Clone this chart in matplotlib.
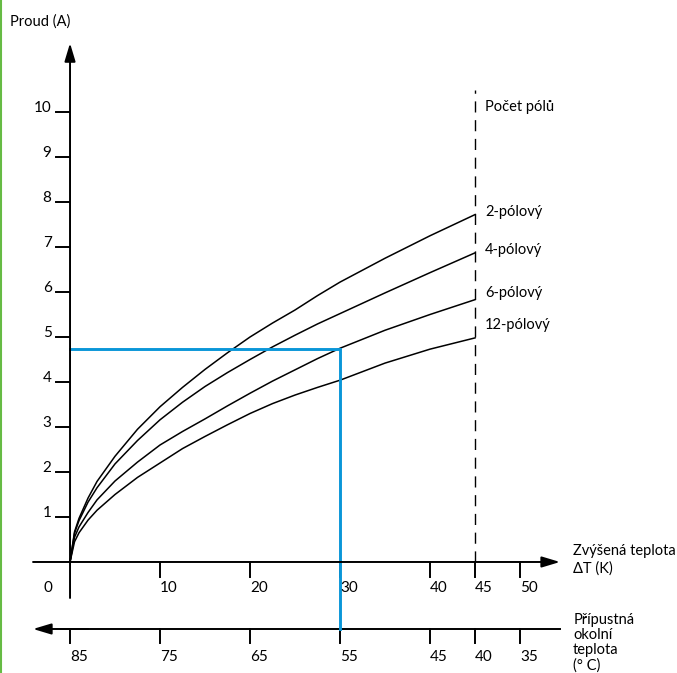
import matplotlib.pyplot as plt
from matplotlib.lines import Line2D

plt.rcParams['font.family'] = ['Lato', 'DejaVu Sans']

# temperature rise (K) and current (A) per pole number
dT = [0, 0.5, 1, 2, 3, 5, 7.5, 10, 12.5, 15, 17.5, 20, 22.5, 25, 27.5, 30, 35, 40, 45]
i_2p = [0, 0.67, 0.97, 1.42, 1.79, 2.35, 2.95, 3.45, 3.88, 4.28, 4.65, 5.0, 5.31, 5.6, 5.92, 6.22, 6.75, 7.25, 7.72]
i_4p = [0, 0.64, 0.92, 1.33, 1.65, 2.18, 2.7, 3.16, 3.55, 3.9, 4.21, 4.5, 4.78, 5.04, 5.29, 5.52, 5.98, 6.43, 6.87]
i_6p = [0, 0.55, 0.78, 1.1, 1.38, 1.8, 2.22, 2.6, 2.9, 3.18, 3.47, 3.75, 4.02, 4.27, 4.52, 4.75, 5.15, 5.5, 5.83]
i_12p = [0, 0.45, 0.65, 0.93, 1.15, 1.5, 1.88, 2.2, 2.52, 2.79, 3.05, 3.3, 3.52, 3.71, 3.88, 4.04, 4.42, 4.73, 4.98]
curve_names = ["2-pólový", "4-pólový", "6-pólový", "12-pólový"]
curve_label_y = [7.78, 6.93, 5.98, 5.27]

y_ticks = [1, 2, 3, 4, 5, 6, 7, 8, 9, 10]
x_ticks = [10, 20, 30, 40, 45, 50]
t_ticks = [85, 75, 65, 55, 45, 40, 35]   # ambient temperature, 85 - dT
t_max = 85

# example reading (blue lines)
ex_dT = 30
ex_I = 4.73

fig = plt.figure(figsize=(6.77, 6.73), dpi=100)
ax = fig.add_axes([0, 0, 1, 1])
ax.set_xlim(-7.78, 67.44)
ax.set_ylim(-2.467, 12.489)
ax.axis('off')

fs = 10.5
lw_ax = 1.4
y_low = -1.489   # level of the second (ambient) axis

def arrow(x0, y0, x1, y1):
    ax.annotate('', xy=(x1, y1), xytext=(x0, y0),
                arrowprops=dict(arrowstyle='-|>,head_length=1.1,head_width=0.33',
                                mutation_scale=10, lw=lw_ax, color='black',
                                shrinkA=0, shrinkB=0))

# axes
arrow(0, -0.8, 0, 11.53)
arrow(-4.11, 0, 54.44, 0)
ax.plot([-1.0, 54.44], [y_low, y_low], color='black', lw=lw_ax)
arrow(2, y_low, -4.11, y_low)

for v in y_ticks:
    ax.plot([-1.556, 0], [v, v], color='black', lw=lw_ax)
    ax.text(-2.05, v + 0.09, str(v), ha='right', va='center', fontsize=fs + 0.5)

for v in x_ticks:
    ax.plot([v, v], [0, -0.333], color='black', lw=lw_ax)
    ax.text(v, -0.578, str(v), ha='left', va='center', fontsize=fs + 0.5)
ax.text(-2.0, -0.578, "0", ha='right', va='center', fontsize=fs + 0.5)

for t in t_ticks:
    x = t_max - t
    ax.plot([x, x], [y_low, -1.8], color='black', lw=lw_ax)
    ax.text(x, -2.11, str(t), ha='left', va='center', fontsize=fs + 0.5)

# dashed limit line
ax.plot([45, 45], [0, 10.49], color='black', lw=1.0, linestyle=(0, (8, 5.5)))

# curves
for vals, name, ly in zip([i_2p, i_4p, i_6p, i_12p], curve_names, curve_label_y):
    ax.plot(dT, vals, color='black', lw=1.1)
    ax.text(46.1, ly, name, ha='left', va='center', fontsize=fs)

# blue reading lines
ax.plot([0, ex_dT, ex_dT], [ex_I, ex_I, y_low], color='#0a96d8', lw=2.1,
        solid_joinstyle='miter')

ax.text(-6.67, 12.0, "Proud (A)", ha='left', va='center', fontsize=fs)
ax.text(46.1, 10.11, "Počet pólů", ha='left', va='center', fontsize=fs)
ax.text(55.9, 0.044, "Zvýšená teplota\nΔT (K)", ha='left', va='center',
        fontsize=fs, linespacing=1.3)
ax.text(55.9, -1.789, "Přípustná\nokolní\nteplota\n(° C)", ha='left', va='center',
        fontsize=fs, linespacing=1.1)

# green frame edge on the left
fig.add_artist(Line2D([0.0015, 0.0015], [0, 1], transform=fig.transFigure,
                      color='#66bb44', lw=1.5))

fig.savefig("out.png", dpi=100)
